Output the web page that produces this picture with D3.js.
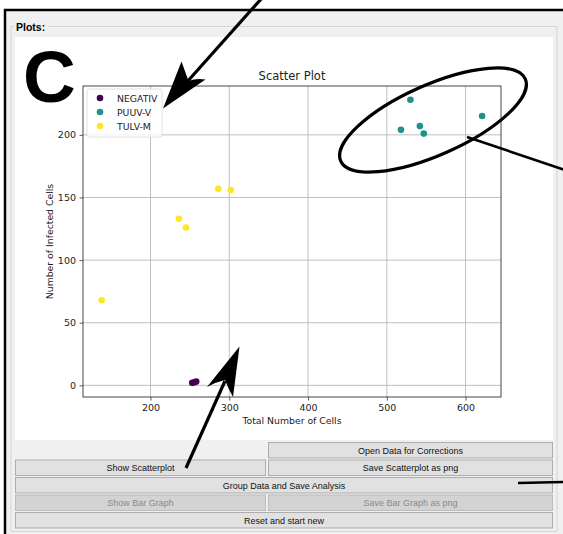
<!DOCTYPE html>
<html><head><meta charset="utf-8">
<script src="https://cdn.jsdelivr.net/npm/d3@7"></script>
<style>html,body{margin:0;padding:0;background:#fff;overflow:hidden}</style>
</head><body>
<script>
// ---- data ----
const categories = ["NEGATIV", "PUUV-V", "TULV-M"];
const negX = [253, 256, 258];
const negY = [2, 2.5, 3];
const puuvX = [518, 530, 542, 547, 621];
const puuvY = [204, 228, 207, 201, 215];
const tulvX = [138, 236, 245, 286, 302];
const tulvY = [68, 133, 126, 157, 156];
const xTicks = [200, 300, 400, 500, 600];
const yTicks = [0, 50, 100, 150, 200];
const buttonRows = [
  [null, "Open Data for Corrections"],
  ["Show Scatterplot", "Save Scatterplot as png"],
  ["Group Data and Save Analysis"],
  ["Show Bar Graph", "Save Bar Graph as png"],
  ["Reset and start new"]
];
const disabledRow = 3;

const colors = ["#440154", "#21918c", "#fde725"];
const series = [
  {name: categories[0], xs: negX, ys: negY},
  {name: categories[1], xs: puuvX, ys: puuvY},
  {name: categories[2], xs: tulvX, ys: tulvY}
];

const W = 563, H = 534;
const svg = d3.select("body").append("svg").attr("width", W).attr("height", H)
  .style("display", "block");

// window background
svg.append("rect").attr("x", 0).attr("y", 0).attr("width", W).attr("height", H).attr("fill", "#ffffff");
svg.append("rect").attr("x", 5).attr("y", 10).attr("width", W).attr("height", H).attr("fill", "#f0f0f0");
// group box
svg.append("rect").attr("x", 11).attr("y", 26.5).attr("width", 546).attr("height", 505)
  .attr("fill", "none").attr("stroke", "#d5d5d5").attr("stroke-width", 1);
svg.append("rect").attr("x", 14).attr("y", 22).attr("width", 34).attr("height", 10).attr("fill", "#f0f0f0");
svg.append("text").attr("x", 16).attr("y", 30.5).text("Plots:")
  .attr("font-family", "Liberation Sans, Arial, sans-serif").attr("font-weight", "bold")
  .attr("font-size", 10.5).attr("fill", "#000");
// black outer frame (top + left)
svg.append("path").attr("d", `M5,${H} L5,10 L${W},10`).attr("fill", "none")
  .attr("stroke", "#000").attr("stroke-width", 2.5);

// figure white area
svg.append("rect").attr("x", 15).attr("y", 37).attr("width", 538).attr("height", 403).attr("fill", "#fff");

// big C
svg.append("text").attr("x", 23).attr("y", 102).text("C")
  .attr("font-family", "Liberation Sans, Arial, sans-serif").attr("font-weight", "bold")
  .attr("font-size", 73).attr("fill", "#000");

// ---- axes ----
const L = 83, R = 501, T = 86, B = 397;
const x = d3.scaleLinear().domain([114.3, 645]).range([L, R]);
const y = d3.scaleLinear().domain([-9.3, 239]).range([B, T]);
const font = "DejaVu Sans, sans-serif";

const g = svg.append("g");
// grid
g.selectAll(".gx").data(xTicks).join("line")
  .attr("x1", d => x(d)).attr("x2", d => x(d)).attr("y1", T).attr("y2", B)
  .attr("stroke", "#b0b0b0").attr("stroke-width", 0.8);
g.selectAll(".gy").data(yTicks).join("line")
  .attr("y1", d => y(d)).attr("y2", d => y(d)).attr("x1", L).attr("x2", R)
  .attr("stroke", "#b0b0b0").attr("stroke-width", 0.8);

const xAxis = g.append("g").attr("transform", `translate(0,${B})`)
  .call(d3.axisBottom(x).tickValues(xTicks).tickSize(3.5).tickPadding(3.5).tickFormat(d3.format("d")));
const yAxis = g.append("g").attr("transform", `translate(${L},0)`)
  .call(d3.axisLeft(y).tickValues(yTicks).tickSize(3.5).tickPadding(3.5).tickFormat(d3.format("d")));
[xAxis, yAxis].forEach(a => {
  a.select(".domain").remove();
  a.selectAll("line").attr("stroke", "#333").attr("stroke-width", 0.8);
  a.selectAll("text").attr("font-family", font).attr("font-size", 9.5).attr("fill", "#222");
});
// spines
g.append("rect").attr("x", L).attr("y", T).attr("width", R - L).attr("height", B - T)
  .attr("fill", "none").attr("stroke", "#333").attr("stroke-width", 0.9);

// points
series.forEach((s, i) => {
  g.append("g").selectAll("circle").data(s.xs.map((v, j) => [v, s.ys[j]])).join("circle")
    .attr("cx", d => x(d[0])).attr("cy", d => y(d[1])).attr("r", 3.3)
    .attr("fill", colors[i]);
});

// title and labels
svg.append("text").attr("x", (L + R) / 2).attr("y", 80).attr("text-anchor", "middle")
  .text("Scatter Plot").attr("font-family", font).attr("font-size", 11.5).attr("fill", "#222");
svg.append("text").attr("x", (L + R) / 2).attr("y", 424).attr("text-anchor", "middle")
  .text("Total Number of Cells").attr("font-family", font).attr("font-size", 9.3).attr("fill", "#222");
svg.append("text").attr("transform", `translate(53,${(T + B) / 2}) rotate(-90)`).attr("text-anchor", "middle")
  .text("Number of Infected Cells").attr("font-family", font).attr("font-size", 9.3).attr("fill", "#222");

// legend
const lg = svg.append("g");
lg.append("rect").attr("x", 87).attr("y", 89).attr("width", 75).attr("height", 48).attr("rx", 2)
  .attr("fill", "#fff").attr("fill-opacity", 0.8).attr("stroke", "#d8d8d8").attr("stroke-width", 0.8);
categories.forEach((c, i) => {
  lg.append("circle").attr("cx", 100).attr("cy", 98 + i * 14).attr("r", 3.3).attr("fill", colors[i]);
  lg.append("text").attr("x", 117).attr("y", 101.5 + i * 14).text(c)
    .attr("font-family", font).attr("font-size", 9.3).attr("fill", "#222");
});

// ---- buttons ----
const rowsY = [442, 459.5, 477, 494.5, 512];
const bh = 16.5;
const colX = [[15, 266], [268, 553]];
buttonRows.forEach((row, r) => {
  const dis = r === disabledRow;
  row.forEach((lab, k) => {
    if (lab === null) return;
    let x0, x1;
    if (row.length === 1) { x0 = 15; x1 = 553; }
    else { x0 = colX[k][0]; x1 = colX[k][1]; }
    svg.append("rect").attr("x", x0 + 0.5).attr("y", rowsY[r] + 0.5).attr("width", x1 - x0 - 1).attr("height", bh - 1)
      .attr("fill", dis ? "#d3d3d3" : "#e1e1e1").attr("stroke", dis ? "#bcbcbc" : "#adadad").attr("stroke-width", 1);
    svg.append("text").attr("x", (x0 + x1) / 2).attr("y", rowsY[r] + 11.5).attr("text-anchor", "middle")
      .text(lab).attr("font-family", "Liberation Sans, Arial, sans-serif").attr("font-size", 9)
      .attr("fill", dis ? "#8a8a8a" : "#111");
  });
});

// ---- annotation arrows ----
const ann = svg.append("g");
ann.append("line").attr("x1", 262).attr("y1", -2).attr("x2", 187).attr("y2", 82)
  .attr("stroke", "#000").attr("stroke-width", 3.2);
ann.append("path").attr("d", "M163,108.5 L181.5,61.5 Q186,74 188.5,81 Q196,78 205.5,79.5 Z").attr("fill", "#000");

ann.append("line").attr("x1", 186).attr("y1", 468).attr("x2", 225).attr("y2", 381)
  .attr("stroke", "#000").attr("stroke-width", 3.2);
ann.append("path").attr("d", "M239.5,346.5 L233,397 Q228,388 225,380 Q216,382 207,387 Z").attr("fill", "#000");

ann.append("ellipse").attr("cx", 433).attr("cy", 120).attr("rx", 101).attr("ry", 35)
  .attr("transform", "rotate(-24,433,120)")
  .attr("fill", "none").attr("stroke", "#000").attr("stroke-width", 3.2);
ann.append("line").attr("x1", 467).attr("y1", 137).attr("x2", 565).attr("y2", 170)
  .attr("stroke", "#000").attr("stroke-width", 2.6);
ann.append("line").attr("x1", 518).attr("y1", 483).attr("x2", 565).attr("y2", 482)
  .attr("stroke", "#000").attr("stroke-width", 2.6);
</script>
</body></html>
